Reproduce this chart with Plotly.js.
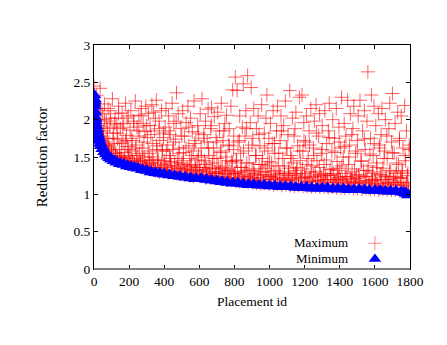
<!DOCTYPE html>
<html>
<head>
<meta charset="utf-8">
<script src="https://cdn.plot.ly/plotly-3.0.1.min.js"></script>
<style>html,body{margin:0;padding:0;background:#fff;}#chart{width:447px;height:345px;}</style>
</head>
<body>
<div id="chart"></div>
<script>
// Maximum reduction factor per placement id
const maxIds = [
0,5,10,15,20,25,30,35,40,45,50,55,60,65,70,75,80,85,90,95,
100,105,110,115,120,125,130,135,140,145,150,155,160,165,170,175,180,185,190,195,
200,205,210,215,220,225,230,235,240,245,250,255,260,265,270,275,280,285,290,295,
300,305,310,315,320,325,330,335,340,345,350,355,360,365,370,375,380,385,390,395,
400,405,410,415,420,425,430,435,440,445,450,455,460,465,470,475,480,485,490,495,
500,505,510,515,520,525,530,535,540,545,550,555,560,565,570,575,580,585,590,595,
600,605,610,615,620,625,630,635,640,645,650,655,660,665,670,675,680,685,690,695,
700,705,710,715,720,725,730,735,740,745,750,755,760,765,770,775,780,785,790,795,
800,805,810,815,820,825,830,835,840,845,850,855,860,865,870,875,880,885,890,895,
900,905,910,915,920,925,930,935,940,945,950,955,960,965,970,975,980,985,990,995,
1000,1005,1010,1015,1020,1025,1030,1035,1040,1045,1050,1055,1060,1065,1070,1075,1080,1085,1090,1095,
1100,1105,1110,1115,1120,1125,1130,1135,1140,1145,1150,1155,1160,1165,1170,1175,1180,1185,1190,1195,
1200,1205,1210,1215,1220,1225,1230,1235,1240,1245,1250,1255,1260,1265,1270,1275,1280,1285,1290,1295,
1300,1305,1310,1315,1320,1325,1330,1335,1340,1345,1350,1355,1360,1365,1370,1375,1380,1385,1390,1395,
1400,1405,1410,1415,1420,1425,1430,1435,1440,1445,1450,1455,1460,1465,1470,1475,1480,1485,1490,1495,
1500,1505,1510,1515,1520,1525,1530,1535,1540,1545,1550,1555,1560,1565,1570,1575,1580,1585,1590,1595,
1600,1605,1610,1615,1620,1625,1630,1635,1640,1645,1650,1655,1660,1665,1670,1675,1680,1685,1690,1695,
1700,1705,1710,1715,1720,1725,1730,1735,1740,1745,1750,1755,1760,1765,1770,1775,1780,1785,1790,1795
];
const maxVals = [
2.45,2.18,2.05,2.32,1.92,2.12,1.78,2.42,1.95,1.72,2.08,1.85,2.21,1.66,1.98,1.75,2.15,1.62,1.90,2.02,
1.55,2.28,1.82,1.68,2.02,1.51,1.93,1.74,2.18,1.60,1.88,1.47,2.09,1.70,1.95,1.56,2.22,1.79,1.64,2.05,
1.45,1.86,2.12,1.58,1.72,1.98,1.41,2.25,1.66,1.90,1.52,2.06,1.78,1.44,2.15,1.62,1.95,1.50,1.84,2.18,
1.38,1.76,2.08,1.55,1.92,1.42,2.20,1.68,1.36,1.85,2.02,2.26,1.60,1.47,1.98,1.72,1.35,2.12,1.58,1.82,
1.45,1.90,2.15,1.33,1.66,2.05,1.52,1.80,1.38,2.22,1.60,1.95,1.31,1.74,2.36,1.48,2.08,1.62,1.30,1.88,
1.42,2.12,1.56,1.78,1.28,1.96,1.35,2.18,1.65,1.48,2.02,1.30,1.84,1.58,2.25,1.40,1.72,1.27,1.92,1.52,
1.36,2.08,1.62,2.28,1.26,1.80,1.45,1.98,1.33,1.70,2.14,1.52,1.25,1.88,2.16,1.42,1.62,2.04,1.30,1.76,
1.48,2.10,1.28,1.85,1.58,2.22,1.36,1.72,1.24,1.95,1.50,2.06,1.32,1.66,1.88,1.22,2.18,1.44,2.40,1.60,
1.28,2.57,1.45,2.39,1.70,1.22,2.05,1.55,1.36,1.90,2.48,1.26,1.78,2.12,1.42,2.59,1.62,1.20,1.96,2.43,
1.32,1.75,2.15,1.22,1.52,1.88,1.18,2.05,1.40,1.65,1.26,2.20,1.48,1.16,1.82,1.35,2.02,2.33,1.58,1.24,
1.44,1.95,1.20,1.68,2.12,1.30,1.55,1.15,1.85,2.18,1.38,1.22,1.72,2.05,1.14,1.48,1.92,1.28,2.25,1.62,
1.18,1.80,1.35,2.39,1.52,1.15,2.02,1.42,1.25,1.88,2.10,1.32,1.65,1.13,2.30,1.45,1.22,2.33,1.58,1.96,
1.28,1.70,2.05,1.16,1.48,1.85,1.22,2.15,1.38,1.12,1.62,1.98,1.30,2.20,1.45,1.18,1.78,2.08,1.26,1.55,
1.92,1.14,1.40,2.12,1.25,1.68,1.20,1.85,2.22,1.33,1.11,1.58,2.00,1.28,1.75,1.16,2.15,1.44,1.22,1.90,
1.35,1.62,2.30,1.18,1.50,1.95,1.24,1.78,1.12,2.26,1.40,1.66,2.08,1.20,1.30,1.88,2.18,1.15,1.55,1.26,
1.72,2.05,1.22,2.26,1.45,1.10,1.85,1.32,2.12,1.60,1.18,1.98,2.64,1.38,1.14,1.75,2.33,1.28,1.52,2.18,
1.20,1.92,1.42,1.12,2.08,1.66,1.26,1.80,2.15,1.35,1.10,1.58,2.00,1.24,1.48,1.16,1.88,2.22,1.30,1.70,
2.35,1.18,1.55,1.95,1.28,1.12,2.10,1.40,1.75,1.22,2.05,1.32,1.62,1.14,2.19,1.45,1.85,1.25,1.10,1.60
];
// More maximum points in the middle of the cloud
const maxIdsMid = [
4,12,20,28,36,44,52,60,68,76,84,92,100,108,116,124,132,140,148,156,164,172,180,188,196,
204,212,220,228,236,244,252,260,268,276,284,292,300,308,316,324,332,340,348,356,364,372,380,388,396,
404,412,420,428,436,444,452,460,468,476,484,492,500,508,516,524,532,540,548,556,564,572,580,588,596,
604,612,620,628,636,644,652,660,668,676,684,692,700,708,716,724,732,740,748,756,764,772,780,788,796,
804,812,820,828,836,844,852,860,868,876,884,892,900,908,916,924,932,940,948,956,964,972,980,988,996,
1004,1012,1020,1028,1036,1044,1052,1060,1068,1076,1084,1092,1100,1108,1116,1124,1132,1140,1148,1156,1164,1172,1180,1188,1196,
1204,1212,1220,1228,1236,1244,1252,1260,1268,1276,1284,1292,1300,1308,1316,1324,1332,1340,1348,1356,1364,1372,1380,1388,1396,
1404,1412,1420,1428,1436,1444,1452,1460,1468,1476,1484,1492,1500,1508,1516,1524,1532,1540,1548,1556,1564,1572,1580,1588,1596,
1604,1612,1620,1628,1636,1644,1652,1660,1668,1676,1684,1692,1700,1708,1716,1724,1732,1740,1748,1756,1764,1772,1780,1788,1796
];
const maxValsMid = [
1.92,2.10,1.70,1.85,2.15,1.62,1.78,2.00,1.58,1.88,1.66,2.12,1.52,1.75,1.95,1.55,1.82,2.08,1.50,1.68,1.90,1.48,1.72,2.02,1.60,
1.52,1.75,1.44,1.95,1.62,1.40,1.85,1.55,2.05,1.46,1.70,1.38,1.92,1.58,1.42,1.80,1.50,2.10,1.36,1.65,1.45,1.88,1.34,1.60,1.76,
1.40,1.58,1.32,1.85,1.48,1.30,1.70,1.42,1.98,1.35,1.55,1.29,1.78,1.45,1.33,1.62,1.28,1.90,1.38,1.52,1.27,1.68,1.36,1.46,1.82,
1.32,1.50,1.26,1.75,1.40,1.25,1.62,1.35,1.92,1.28,1.48,1.24,1.70,1.38,1.30,1.56,1.23,1.85,1.34,1.45,1.22,1.65,1.30,1.42,1.78,
1.28,1.46,1.21,1.72,1.36,1.20,1.58,1.30,1.88,1.24,1.42,1.19,1.66,1.34,1.26,1.52,1.18,1.80,1.30,1.40,1.17,1.62,1.26,1.38,1.75,
1.24,1.42,1.16,1.68,1.32,1.15,1.55,1.26,1.85,1.20,1.38,1.15,1.62,1.30,1.22,1.48,1.14,1.78,1.28,1.36,1.14,1.58,1.22,1.34,1.72,
1.22,1.40,1.13,1.66,1.30,1.13,1.52,1.24,1.82,1.18,1.36,1.12,1.60,1.28,1.20,1.46,1.12,1.76,1.26,1.34,1.11,1.56,1.20,1.32,1.70,
1.20,1.38,1.11,1.64,1.28,1.11,1.50,1.22,1.80,1.16,1.34,1.10,1.58,1.26,1.18,1.44,1.10,1.74,1.24,1.32,1.09,1.54,1.18,1.30,1.68,
1.18,1.36,1.09,1.62,1.26,1.09,1.48,1.20,1.78,1.14,1.32,1.08,1.56,1.24,1.16,1.42,1.08,1.72,1.22,1.30,1.07,1.52,1.16,1.28,1.66
];
// Maximum points in the dense band just above the minimum
const maxIdsLow = [
2,14,26,38,50,62,74,86,98,110,122,134,146,158,170,182,194,206,218,230,242,254,266,278,290,302,314,326,338,350,
362,374,386,398,410,422,434,446,458,470,482,494,506,518,530,542,554,566,578,590,602,614,626,638,650,662,674,686,698,710,
722,734,746,758,770,782,794,806,818,830,842,854,866,878,890,902,914,926,938,950,962,974,986,998,1010,1022,1034,1046,1058,1070,
1082,1094,1106,1118,1130,1142,1154,1166,1178,1190,1202,1214,1226,1238,1250,1262,1274,1286,1298,1310,1322,1334,1346,1358,1370,1382,1394,1406,1418,1430,
1442,1454,1466,1478,1490,1502,1514,1526,1538,1550,1562,1574,1586,1598,1610,1622,1634,1646,1658,1670,1682,1694,1706,1718,1730,1742,1754,1766,1778,1790
];
const maxValsLow = [
2.22,2.00,1.88,1.82,1.75,1.70,1.64,1.60,1.58,1.55,1.52,1.50,1.47,1.49,1.45,1.44,1.50,1.42,1.46,1.40,1.48,1.38,1.42,1.36,1.45,1.35,1.40,1.33,1.46,1.32,
1.38,1.30,1.42,1.32,1.36,1.29,1.44,1.30,1.38,1.28,1.35,1.27,1.40,1.26,1.32,1.25,1.38,1.24,1.33,1.26,1.30,1.24,1.36,1.22,1.30,1.23,1.35,1.21,1.28,1.22,
1.34,1.20,1.27,1.19,1.32,1.20,1.26,1.18,1.30,1.17,1.24,1.18,1.32,1.16,1.22,1.16,1.28,1.15,1.22,1.14,1.30,1.15,1.20,1.14,1.26,1.13,1.22,1.14,1.28,1.12,
1.19,1.13,1.25,1.12,1.20,1.11,1.27,1.12,1.18,1.11,1.24,1.11,1.17,1.10,1.26,1.11,1.19,1.10,1.23,1.10,1.16,1.09,1.25,1.10,1.18,1.09,1.22,1.09,1.15,1.08,
1.24,1.09,1.17,1.08,1.21,1.08,1.15,1.07,1.24,1.08,1.16,1.07,1.20,1.07,1.14,1.06,1.23,1.07,1.15,1.06,1.20,1.06,1.13,1.06,1.22,1.05,1.16,1.05,1.12,1.04
];
// Minimum reduction factor per placement id
const minIds = [
0,0,0,1,1,2,2,3,4,5,6,8,10,13,16,20,25,30,36,42,50,60,70,80,90,100,115,130,150,170,190,210,230,250,275,300,325,350,375,400,
430,460,490,520,550,580,610,640,670,700,730,760,790,820,850,880,910,940,970,1000,1030,1060,1090,1120,1150,1180,1210,1240,1270,1300,
1330,1360,1390,1420,1450,1480,1510,1540,1570,1600,1630,1660,1690,1720,1750,1770,1780,1790
];
const minVals = [
2.33,2.22,2.12,2.28,2.05,2.25,2.00,2.18,2.10,2.02,1.98,1.94,1.92,1.88,1.84,1.80,1.76,1.72,1.68,1.65,1.61,1.57,1.54,1.51,1.49,1.47,1.45,1.43,1.41,1.40,1.38,1.37,1.36,1.35,1.33,1.32,1.30,1.29,1.28,1.27,
1.26,1.25,1.24,1.23,1.22,1.21,1.21,1.20,1.19,1.18,1.17,1.16,1.15,1.15,1.14,1.13,1.13,1.12,1.12,1.11,1.11,1.10,1.10,1.10,1.09,1.09,1.09,1.08,1.08,1.08,
1.08,1.07,1.07,1.07,1.06,1.06,1.06,1.06,1.05,1.05,1.05,1.04,1.04,1.04,1.03,1.02,1.01,0.99
];
const xTicks = [0,200,400,600,800,1000,1200,1400,1600,1800];
const yTicks = [0,0.5,1,1.5,2,2.5,3];
const seriesNames = ['Maximum','Minimum'];

const serif = 'Liberation Serif, Times New Roman, serif';
const crossColor = 'rgba(255,0,0,0.62)';
const keyCross = 'rgba(255,0,0,0.45)';
const blue = 'rgb(0,0,255)';
const fs = 13.5;

const traces = [
  {x: maxIds.concat(maxIdsMid, maxIdsLow), y: maxVals.concat(maxValsMid, maxValsLow), type: 'scatter', mode: 'markers',
   name: seriesNames[0], hoverinfo: 'skip',
   marker: {symbol: 'cross-thin-open', size: 10, color: crossColor, line: {color: crossColor, width: 1}}},
  {x: minIds, y: minVals, type: 'scatter', mode: 'markers', name: seriesNames[1],
   marker: {symbol: 'triangle-up', size: 13, color: blue, line: {width: 0}}},
  // key symbols on an overlay axis spanning the plot area
  {x: [0.889], y: [0.115], xaxis: 'x2', yaxis: 'y2', type: 'scatter', mode: 'markers', showlegend: false,
   marker: {symbol: 'cross-thin-open', size: 10, color: keyCross, line: {color: keyCross, width: 1}}},
  {x: [0.889], y: [0.045], xaxis: 'x2', yaxis: 'y2', type: 'scatter', mode: 'markers', showlegend: false,
   marker: {symbol: 'triangle-up', size: 11, color: blue, line: {width: 0}}}
];

const layout = {
  width: 447, height: 345,
  margin: {l: 94, r: 37, t: 45, b: 76},
  paper_bgcolor: '#fff', plot_bgcolor: '#fff',
  showlegend: false,
  font: {family: serif, size: fs, color: '#000'},
  xaxis: {range: [0, 1800], tickvals: xTicks, ticktext: xTicks.map(String),
    ticks: 'inside', ticklen: 4, tickcolor: '#000', showline: true, linecolor: '#000', linewidth: 1,
    mirror: 'ticks', showgrid: false, zeroline: false, fixedrange: true,
    tickfont: {family: serif, size: fs, color: '#000'},
    title: {text: 'Placement id', font: {family: serif, size: 13.5, color: '#000'}, standoff: 8}},
  yaxis: {range: [0, 3], tickvals: yTicks, ticktext: yTicks.map(String),
    ticks: 'inside', ticklen: 4, tickcolor: '#000', showline: true, linecolor: '#000', linewidth: 1,
    mirror: 'ticks', showgrid: false, zeroline: false, fixedrange: true,
    tickfont: {family: serif, size: fs, color: '#000'},
    title: {text: 'Reduction factor', font: {family: serif, size: 15, color: '#000'}, standoff: 22}},
  xaxis2: {overlaying: 'x', range: [0, 1], visible: false, fixedrange: true},
  yaxis2: {overlaying: 'y', range: [0, 1], visible: false, fixedrange: true},
  shapes: [
    {type: 'line', xref: 'paper', yref: 'paper', x0: 0, x1: 1, y0: 0, y1: 0,
     line: {color: '#808080', width: 2}}
  ],
  annotations: [
    {xref: 'paper', yref: 'paper', x: 0.807, y: 0.117, xanchor: 'right', yanchor: 'middle', borderpad: 0,
     text: seriesNames[0], showarrow: false, font: {family: serif, size: 13, color: '#000'}},
    {xref: 'paper', yref: 'paper', x: 0.807, y: 0.045, xanchor: 'right', yanchor: 'middle', borderpad: 0,
     text: seriesNames[1], showarrow: false, font: {family: serif, size: 13, color: '#000'}}
  ]
};

Plotly.newPlot('chart', traces, layout, {staticPlot: true, displayModeBar: false});
</script>
</body>
</html>
